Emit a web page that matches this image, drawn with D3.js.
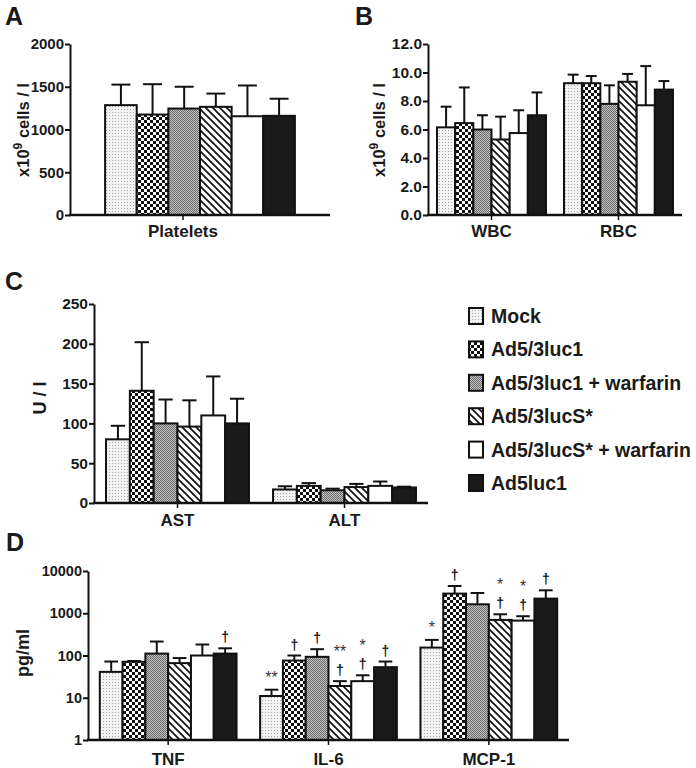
<!DOCTYPE html>
<html><head><meta charset="utf-8">
<script src="https://cdn.jsdelivr.net/npm/d3@7"></script>
<style>
html,body{margin:0;padding:0;background:#fff;}
text{font-family:"Liberation Sans",Arial,Helvetica,sans-serif;}
.annot{opacity:0.99;}
</style>
</head><body>
<svg id="chart" width="696" height="768"></svg>
<script>
// ---------------- data ----------------
const seriesNames = ["Mock","Ad5/3luc1","Ad5/3luc1 + warfarin","Ad5/3lucS*","Ad5/3lucS* + warfarin","Ad5luc1"];

const catsA = ["Platelets"];
const meanA = [[1285,1175,1245,1265,1155,1160]];
const errA  = [[240,355,255,155,360,200]];
const ticksA = [0,500,1000,1500,2000];

const catsB = ["WBC","RBC"];
const meanB = [[6.15,6.45,6.0,5.3,5.75,7.0],[9.25,9.25,7.8,9.35,7.7,8.8]];
const errB  = [[1.45,2.5,1.0,1.6,1.6,1.6],[0.6,0.5,1.3,0.55,2.75,0.6]];
const ticksB = [0,2,4,6,8,10,12];

const catsC = ["AST","ALT"];
const meanC = [[80,141,100,96,110,100],[17,21.5,16,20,21.5,19.5]];
const errC  = [[17,61,30,33,49,31],[4,3.5,2,4,5.5,1]];
const ticksC = [0,50,100,150,200,250];

const catsD = ["TNF","IL-6","MCP-1"];
const meanD = [[41,71,111,66,100,111],[11,76,93,19,24.7,53],[154,2920,1630,696,670,2220]];
const errD  = [[31,3,103,21,82,37],[4.5,24,48,5.7,9.3,19],[80,1500,1390,249,180,1270]];
const ticksD = [1,10,100,1000,10000];
const starsD   = [["","","","","",""],["**","","","**","*",""],["*","","","*","*",""]];
const daggersD = [[0,0,0,0,0,1],[0,1,1,1,1,1],[0,1,0,1,1,1]];

// ---------------- drawing ----------------
const svg = d3.select("#chart");
const defs = svg.append("defs");

const pMock = defs.append("pattern").attr("id","pMock").attr("patternUnits","userSpaceOnUse").attr("width",3).attr("height",3);
pMock.append("rect").attr("width",3).attr("height",3).attr("fill","#f3f3f3");
pMock.append("rect").attr("x",1).attr("y",1).attr("width",1).attr("height",1).attr("fill","#a8a8a8");

const pCheck = defs.append("pattern").attr("id","pCheck").attr("patternUnits","userSpaceOnUse").attr("width",6).attr("height",6);
pCheck.append("rect").attr("width",6).attr("height",6).attr("fill","#fff");
pCheck.append("rect").attr("width",3).attr("height",3).attr("fill","#111");
pCheck.append("rect").attr("x",3).attr("y",3).attr("width",3).attr("height",3).attr("fill","#111");

const pGray = defs.append("pattern").attr("id","pGray").attr("patternUnits","userSpaceOnUse").attr("width",2).attr("height",2);
pGray.append("rect").attr("width",2).attr("height",2).attr("fill","#c4c4c4");
pGray.append("rect").attr("width",1).attr("height",1).attr("fill","#6a6a6a");
pGray.append("rect").attr("x",1).attr("y",1).attr("width",1).attr("height",1).attr("fill","#6a6a6a");

const pStripe = defs.append("pattern").attr("id","pStripe").attr("patternUnits","userSpaceOnUse").attr("width",7).attr("height",7);
pStripe.append("rect").attr("width",7).attr("height",7).attr("fill","#fff");
pStripe.append("path").attr("d","M0,0L7,7M-3.5,3.5L3.5,10.5M3.5,-3.5L10.5,3.5").attr("stroke","#111").attr("stroke-width",1.7);

const fills = ["url(#pMock)","url(#pCheck)","url(#pGray)","url(#pStripe)","#ffffff","#1a1a1a"];

const FONT = '"Liberation Sans",Arial,Helvetica,sans-serif';

function drawPanel(cfg){
  const g = svg.append("g");
  const y = cfg.log
    ? d3.scaleLog().domain([ticksD[0], ticksD[ticksD.length-1]]).range([cfg.yb, cfg.yt])
    : d3.scaleLinear().domain([cfg.ticks[0], cfg.ticks[cfg.ticks.length-1]]).range([cfg.yb, cfg.yt]);
  const x = d3.scaleBand().domain(cfg.cats).range([cfg.xl, cfg.xr])
    .paddingInner(cfg.pad).paddingOuter(cfg.pad/2);
  const xs = d3.scaleBand().domain(d3.range(seriesNames.length)).range([0, x.bandwidth()]);
  const annot = g.append("g").attr("class","annot");

  cfg.cats.forEach((c, ci) => {
    const gx = x(c);
    cfg.means[ci].forEach((m, si) => {
      const bx = gx + xs(si);
      const bw = xs.bandwidth();
      const top = y(m);
      const errTop = y(m + cfg.errs[ci][si]);
      const cx = bx + bw/2;
      const cw = bw*0.6;
      g.append("line").attr("x1",cx).attr("x2",cx).attr("y1",top).attr("y2",errTop)
        .attr("stroke","#111").attr("stroke-width",2);
      g.append("line").attr("x1",cx-cw/2).attr("x2",cx+cw/2).attr("y1",errTop).attr("y2",errTop)
        .attr("stroke","#111").attr("stroke-width",2);
      g.append("rect").attr("x",bx).attr("y",top).attr("width",bw).attr("height",cfg.yb-top)
        .attr("fill",fills[si]).attr("stroke","#111").attr("stroke-width",2);
      if (cfg.stars){
        const dag = cfg.daggers[ci][si];
        if (dag){
          annot.append("text").attr("x",cx).attr("y",errTop-6).attr("text-anchor","middle")
            .attr("font-size",14).attr("font-weight","bold").attr("fill","#111").text("\u2020");
        }
        const s = cfg.stars[ci][si];
        if (s){
          const base = dag ? errTop-24 : errTop-7;
          annot.append("text").attr("x",cx).attr("y",base).attr("text-anchor","middle")
            .attr("font-size",16).attr("fill","#333").text(s);
        }
      }
    });
    const lx = x(c) + x.bandwidth()/2 + (cfg.labelShift||0);
    g.append("line").attr("x1",lx).attr("x2",lx).attr("y1",cfg.yb).attr("y2",cfg.yb+5)
      .attr("stroke","#111").attr("stroke-width",1.5);
    g.append("text").attr("x",lx).attr("y",cfg.yb+cfg.catDy).attr("text-anchor","middle")
      .attr("font-size",17).attr("font-weight","bold").attr("fill","#1a1a1a").text(c);
  });

  const ax = d3.axisLeft(y).tickValues(cfg.ticks).tickSize(5).tickSizeOuter(0).tickPadding(1)
    .tickFormat(cfg.fmt);
  const ag = g.append("g").attr("transform",`translate(${cfg.xl},0)`).call(ax);
  ag.select(".domain").attr("stroke","#111").attr("stroke-width",2);
  ag.selectAll(".tick line").attr("stroke","#111").attr("stroke-width",2);
  ag.selectAll(".tick text").attr("font-size",cfg.tickFs).attr("font-weight","bold")
    .attr("font-family",FONT).attr("fill","#1a1a1a");

  g.append("line").attr("x1",cfg.xl-1).attr("x2",cfg.xr).attr("y1",cfg.yb).attr("y2",cfg.yb)
    .attr("stroke","#111").attr("stroke-width",2.5);

  g.append("text").attr("x",cfg.lx).attr("y",cfg.ly).attr("font-size",25).attr("font-weight","bold")
    .attr("fill","#1a1a1a").text(cfg.letter);

  const yl = g.append("text").attr("transform",`translate(${cfg.ylx},${cfg.yly}) rotate(-90)`)
    .attr("text-anchor","middle").attr("font-size",cfg.ylFs).attr("font-weight","bold").attr("fill","#1a1a1a");
  if (cfg.ylabelSup){
    yl.append("tspan").text("x10");
    yl.append("tspan").attr("dy",-7).attr("font-size",12).text("9");
    yl.append("tspan").attr("dy",7).text(" cells / l");
  } else {
    yl.text(cfg.ylabel);
  }
}

drawPanel({letter:"A", lx:5, ly:25, cats:catsA, means:meanA, errs:errA, ticks:ticksA,
  fmt:d3.format("d"), xl:70, xr:330, yb:215, yt:44, pad:0.27, labelShift:-17, catDy:22,
  tickFs:15, ylabelSup:true, ylx:29, yly:130, ylFs:16.5});
drawPanel({letter:"B", lx:355, ly:25, cats:catsB, means:meanB, errs:errB, ticks:ticksB,
  fmt:d3.format(".1f"), xl:428, xr:682, yb:215, yt:44, pad:0.142, catDy:22,
  tickFs:15.5, ylabelSup:true, ylx:385, yly:130, ylFs:16.5});
drawPanel({letter:"C", lx:5, ly:290, cats:catsC, means:meanC, errs:errC, ticks:ticksC,
  fmt:d3.format("d"), xl:94, xr:428, yb:503, yt:304, pad:0.144, catDy:23,
  tickFs:15.5, ylabel:"U / l", ylx:46, yly:398, ylFs:18});
drawPanel({letter:"D", lx:6, ly:551, cats:catsD, means:meanD, errs:errD, ticks:ticksD, log:true,
  fmt:d3.format("d"), xl:88, xr:569, yb:740, yt:571, pad:0.147, catDy:25,
  tickFs:14.5, ylabel:"pg/ml", ylx:29, yly:653, ylFs:18, stars:starsD, daggers:daggersD});

const leg = svg.append("g");
seriesNames.forEach((n, i) => {
  const cy = 316 + i*33.4;
  leg.append("rect").attr("x",469).attr("y",cy-8).attr("width",14).attr("height",16)
    .attr("fill",fills[i]).attr("stroke","#111").attr("stroke-width",2);
  leg.append("text").attr("x",491).attr("y",cy+7).attr("font-size",19.5).attr("font-weight","bold")
    .attr("fill","#1a1a1a").text(n);
});
</script>
</body></html>
